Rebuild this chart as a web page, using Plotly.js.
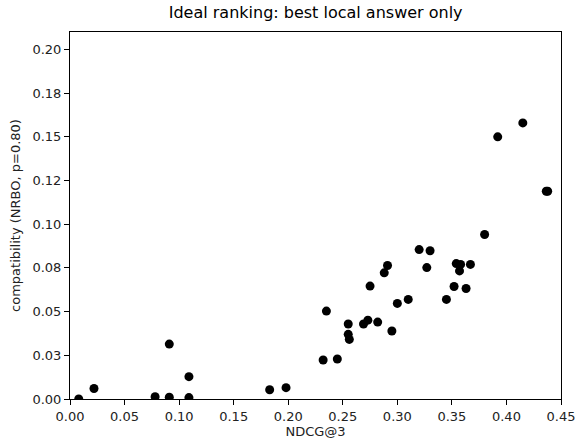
<!DOCTYPE html>
<html>
<head>
<meta charset="utf-8">
<script src="https://cdn.plot.ly/plotly-3.0.1.min.js"></script>
<style>html,body{margin:0;padding:0;background:#fff;}#chart{width:576px;height:444px;}</style>
</head>
<body>
<div id="chart"></div>
<script>
const ndcg = [0.008, 0.022, 0.078, 0.091, 0.091, 0.109, 0.109, 0.183, 0.198, 0.232, 0.245, 0.235, 0.255, 0.255, 0.256, 0.269, 0.273, 0.282, 0.295, 0.275, 0.288, 0.291, 0.300, 0.310, 0.320, 0.330, 0.327, 0.345, 0.352, 0.363, 0.354, 0.358, 0.357, 0.367, 0.380, 0.392, 0.415, 0.4365, 0.4378];
const compat = [0.000, 0.006, 0.0013, 0.001, 0.0314, 0.0128, 0.0008, 0.0053, 0.0065, 0.0223, 0.0229, 0.0503, 0.0429, 0.037, 0.0341, 0.0429, 0.0451, 0.044, 0.0389, 0.0646, 0.0722, 0.0764, 0.0547, 0.057, 0.0855, 0.0848, 0.0752, 0.057, 0.0644, 0.0632, 0.0775, 0.077, 0.0733, 0.077, 0.0941, 0.150, 0.158, 0.1189, 0.1189];
const xTickVals = [0, 0.05, 0.10, 0.15, 0.20, 0.25, 0.30, 0.35, 0.40, 0.45];
const xTickText = ['0.00','0.05','0.10','0.15','0.20','0.25','0.30','0.35','0.40','0.45'];
const yTickVals = [0, 0.025, 0.05, 0.075, 0.10, 0.125, 0.15, 0.175, 0.20];
const yTickText = ['0.00','0.03','0.05','0.08','0.10','0.12','0.15','0.18','0.20'];

const font = 'DejaVu Sans, sans-serif';
const trace = {
  x: ndcg, y: compat, type: 'scatter', mode: 'markers',
  marker: {color: '#000', size: 9, line: {width: 0}},
  cliponaxis: true, hoverinfo: 'none'
};
const axisCommon = {
  showgrid: false, zeroline: false, showline: true, mirror: true,
  linecolor: '#000', linewidth: 1, ticks: 'outside', ticklen: 5, tickwidth: 1,
  tickcolor: '#000', tickfont: {family: font, size: 13, color: '#222'}
};
const layout = {
  width: 576, height: 444,
  margin: {l: 70, r: 14.5, t: 31.7, b: 45},
  paper_bgcolor: '#fff', plot_bgcolor: '#fff',
  showlegend: false,
  title: {text: 'Ideal ranking: best local answer only', font: {family: font, size: 16, color: '#000'},
          x: 0.548, xanchor: 'center', y: 0.972, yanchor: 'middle'},
  xaxis: Object.assign({}, axisCommon, {
    range: [0, 0.45], tickvals: xTickVals, ticktext: xTickText,
    title: {text: 'NDCG@3', font: {family: font, size: 13, color: '#222'}, standoff: 4}
  }),
  yaxis: Object.assign({}, axisCommon, {
    range: [0, 0.21], tickvals: yTickVals, ticktext: yTickText,
    title: {text: 'compatibility (NRBO, p=0.80)', font: {family: font, size: 13, color: '#222'}, standoff: 8}
  })
};
Plotly.newPlot('chart', [trace], layout, {displayModeBar: false, staticPlot: true});
</script>
</body>
</html>
